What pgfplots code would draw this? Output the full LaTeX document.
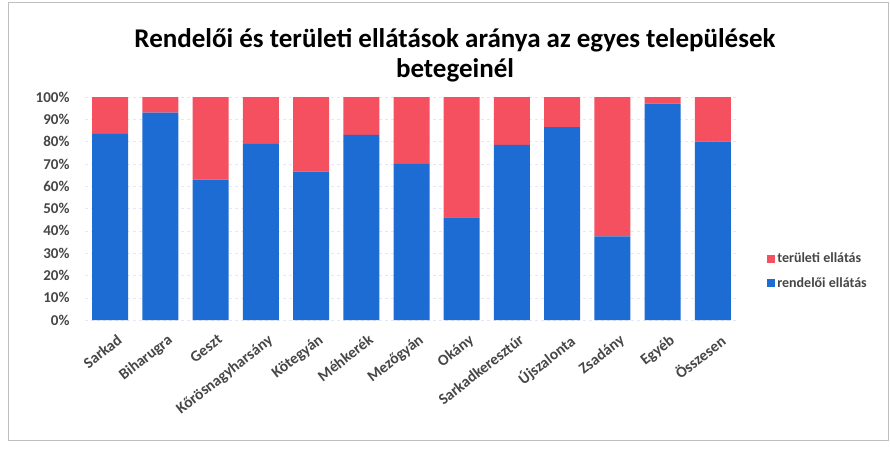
\documentclass[border=0pt]{standalone}
\usepackage{fontspec}
\setmainfont{Carlito}
\usepackage{pgfplots}
\pgfplotsset{compat=1.18}
\definecolor{rendeloi}{RGB}{28,108,212}
\definecolor{teruleti}{RGB}{244,80,96}
\definecolor{ticktext}{RGB}{70,70,70}

\begin{document}
\begin{tikzpicture}
\path (0pt,0pt) rectangle (890pt,448pt);
\draw[black!25, line width=0.8pt] (8pt,8pt) rectangle (888pt,446pt);
\node[font=\fontsize{27}{30}\selectfont\bfseries, align=center] at (455pt,393pt)
  {Rendelői és területi ellátások aránya az egyes települések\\betegeinél};
\begin{axis}[
    at={(85pt,128pt)}, anchor=south west,
    scale only axis,
    width=653pt, height=223pt,
    ybar stacked,
    bar width=36pt,
    xmin=-0.5, xmax=12.5,
    ymin=0, ymax=100,
    xtick={0,...,12},
    xticklabels={Sarkad, Biharugra, Geszt, Kőrösnagyharsány, Kötegyán, Méhkerék,
      Mezőgyán, Okány, Sarkadkeresztúr, Újszalonta, Zsadány, Egyéb, Összesen},
    x tick label style={rotate=38, anchor=north east, font=\fontsize{15.5}{17}\selectfont\bfseries,
      text=ticktext, yshift=-11pt},
    ytick={0,10,...,100},
    yticklabel={\pgfmathprintnumber{\tick}\%},
    y tick label style={font=\fontsize{15}{17}\selectfont\bfseries, text=ticktext, xshift=-12pt},
    /pgf/number format/assume math mode=true,
    axis line style={draw=none},
    tick style={draw=none},
    ymajorgrids,
    grid style={blue!10, dashed},
    legend style={at={(1.04,0.22)}, anchor=west, draw=none,
      font=\fontsize{14}{16}\selectfont\bfseries, text=ticktext, row sep=9pt},
    legend cell align=left,
    reverse legend,
    legend image code/.code={\fill[#1] (0pt,-4pt) rectangle (8pt,4pt);},
]
\addplot[fill=rendeloi, draw=none] coordinates {
  (0,83.5) (1,93) (2,63) (3,79) (4,66.5) (5,83) (6,70) (7,46) (8,78.5) (9,86.5) (10,37.5) (11,97) (12,80)
};
\addlegendentry{rendelői ellátás}
\addplot[fill=teruleti, draw=none] coordinates {
  (0,16.5) (1,7) (2,37) (3,21) (4,33.5) (5,17) (6,30) (7,54) (8,21.5) (9,13.5) (10,62.5) (11,3) (12,20)
};
\addlegendentry{területi ellátás}
\end{axis}
\end{tikzpicture}
\end{document}
